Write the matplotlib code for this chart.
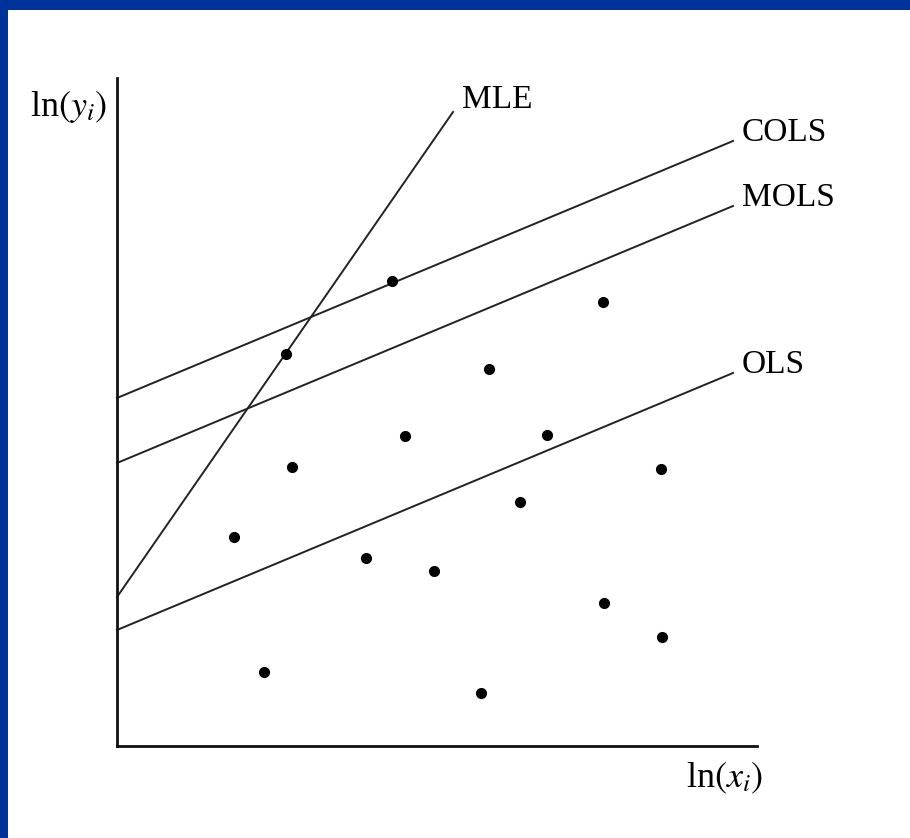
import matplotlib.pyplot as plt
from matplotlib.patches import Rectangle

plt.rcParams['font.family'] = ['Liberation Serif', 'DejaVu Serif']
plt.rcParams['mathtext.fontset'] = 'stix'

# scatter of firms, ln(x) vs ln(y)
point_x = [27.5, 48.6, 16.9, 37.2, 28.8, 43.0, 17.5, 54.4,
           40.3, 11.7, 24.9, 31.7, 48.7, 54.5, 14.7, 36.4]
point_y = [46.5, 44.4, 39.2, 37.7, 31.0, 31.1, 27.9, 27.7,
           24.4, 20.9, 18.8, 17.5, 14.3, 10.9, 7.4, 5.3]

# fitted frontiers, start and end of each line
line_names = ['MLE', 'COLS', 'MOLS', 'OLS']
line_x0 = [0.0, 0.0, 0.0, 0.0]
line_x1 = [33.6, 61.6, 61.6, 61.6]
line_y0 = [14.9, 34.8, 28.3, 11.6]
line_y1 = [63.4, 60.5, 54.0, 37.3]

fig = plt.figure(figsize=(9.1, 8.38), dpi=100)
fig.patch.set_facecolor('white')

# blue slide frame
border = '#003399'
fig.patches.append(Rectangle((0, 1 - 10 / 838), 1, 10 / 838, transform=fig.transFigure,
                             facecolor=border, edgecolor='none', zorder=0))
fig.patches.append(Rectangle((0, 0), 8 / 910, 1, transform=fig.transFigure,
                             facecolor=border, edgecolor='none', zorder=0))

ax = fig.add_axes([117 / 910, 92 / 838, 640 / 910, 668 / 838])
ax.set_xlim(0, 64)
ax.set_ylim(0, 66.8)
ax.patch.set_alpha(0)
for side in ['top', 'right']:
    ax.spines[side].set_visible(False)
for side in ['left', 'bottom']:
    ax.spines[side].set_linewidth(2)
    ax.spines[side].set_color('#111111')
ax.set_xticks([])
ax.set_yticks([])

for name, x0, x1, y0, y1 in zip(line_names, line_x0, line_x1, line_y0, line_y1):
    ax.plot([x0, x1], [y0, y1], color='#222222', lw=1.4, clip_on=False)
    dy = 9 if name == 'MLE' else 6
    ax.annotate(name, (x1, y1), xytext=(6.5, dy), textcoords='offset points',
                fontsize=24, ha='left', va='center', annotation_clip=False)

ax.plot(point_x, point_y, 'o', color='black', ms=7, clip_on=False)

fig.text(30 / 910, 1 - 107 / 838, r'ln$(y_i)$', fontsize=26, ha='left', va='center')
fig.text(686 / 910, 1 - 778 / 838, r'ln$(x_i)$', fontsize=26, ha='left', va='center')

fig.savefig('out.png', dpi=100)
